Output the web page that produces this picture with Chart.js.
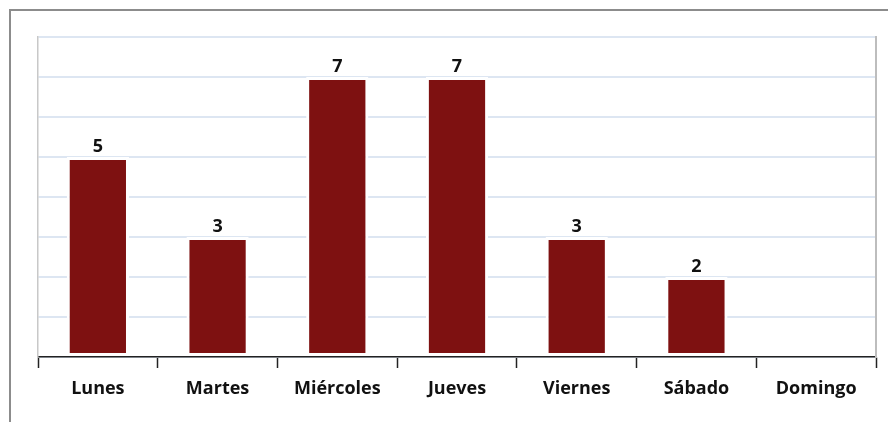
<!DOCTYPE html>
<html lang="es">
  <head>
    <meta charset="UTF-8" />
    <title>Días</title>
    <script src="https://cdn.jsdelivr.net/npm/chart.js@4.4.1/dist/chart.umd.min.js"></script>
    <style>
      body { margin: 0; background: #fff; }
      #wrap { position: relative; width: 888px; height: 422px; overflow: hidden; }
      #frame { position: absolute; left: 9px; top: 9px; width: 900px; height: 500px;
               border-top: 2px solid #8c8c8c; border-left: 2px solid #8c8c8c; }
      canvas { position: absolute; left: 0; top: 0; }
    </style>
  </head>
  <body>
    <div id="wrap">
      <div id="frame"></div>
      <canvas id="myChart" width="888" height="422"></canvas>
    </div>
    <script>
    const dias = ['Lunes', 'Martes', 'Miércoles', 'Jueves', 'Viernes', 'Sábado', 'Domingo'];
    const valores = [5, 3, 7, 7, 3, 2, 0];
    const yMax = 8;

    // numbers above bars
    const etiquetas = {
      id: 'etiquetas',
      afterDatasetsDraw(chart) {
        const ctx = chart.ctx;
        const meta = chart.getDatasetMeta(0);
        ctx.save();
        ctx.font = 'bold 18px "Open Sans"';
        ctx.fillStyle = '#111';
        ctx.textAlign = 'center';
        ctx.textBaseline = 'alphabetic';
        meta.data.forEach((bar, i) => {
          if (!valores[i]) return;
          ctx.fillText(valores[i], bar.x, bar.y - 5);
        });
        ctx.restore();
      }
    };

    const ctx = document.getElementById('myChart').getContext('2d');
    const myChart = new Chart(ctx, {
      type: 'bar',
      data: {
        labels: dias,
        datasets: [{
          data: valores,
          backgroundColor: '#7e1111',
          borderColor: '#ffffff',
          borderWidth: 3,
          borderSkipped: false,
          barPercentage: 0.52,
          categoryPercentage: 1
        }]
      },
      options: {
        responsive: false,
        animation: false,
        layout: { padding: { left: 38, right: 12, top: 37, bottom: 0 } },
        plugins: { legend: { display: false }, tooltip: { enabled: false } },
        scales: {
          x: {
            grid: { drawOnChartArea: false, drawTicks: true, tickLength: 11, color: '#222', tickWidth: 1.5 },
            border: { color: '#222', width: 1.5 },
            ticks: { color: '#111', font: { family: 'Open Sans', size: 18, weight: 'bold' }, padding: 10 },
            afterFit(s) { s.height = 65; }
          },
          y: {
            min: 0, max: yMax,
            ticks: { display: false, stepSize: 1 },
            grid: { color: '#dde6f2', lineWidth: 2, drawTicks: false },
            border: { color: '#c8c8c8', width: 1.5 },
            afterFit(s) { s.width = 0; }
          },
          y2: {
            position: 'right',
            min: 0, max: yMax,
            ticks: { display: false },
            grid: { drawOnChartArea: false, drawTicks: false },
            border: { color: '#bdbdbd', width: 2 },
            afterFit(s) { s.width = 0; }
          }
        }
      },
      plugins: [etiquetas]
    });
    </script>
  </body>
</html>
